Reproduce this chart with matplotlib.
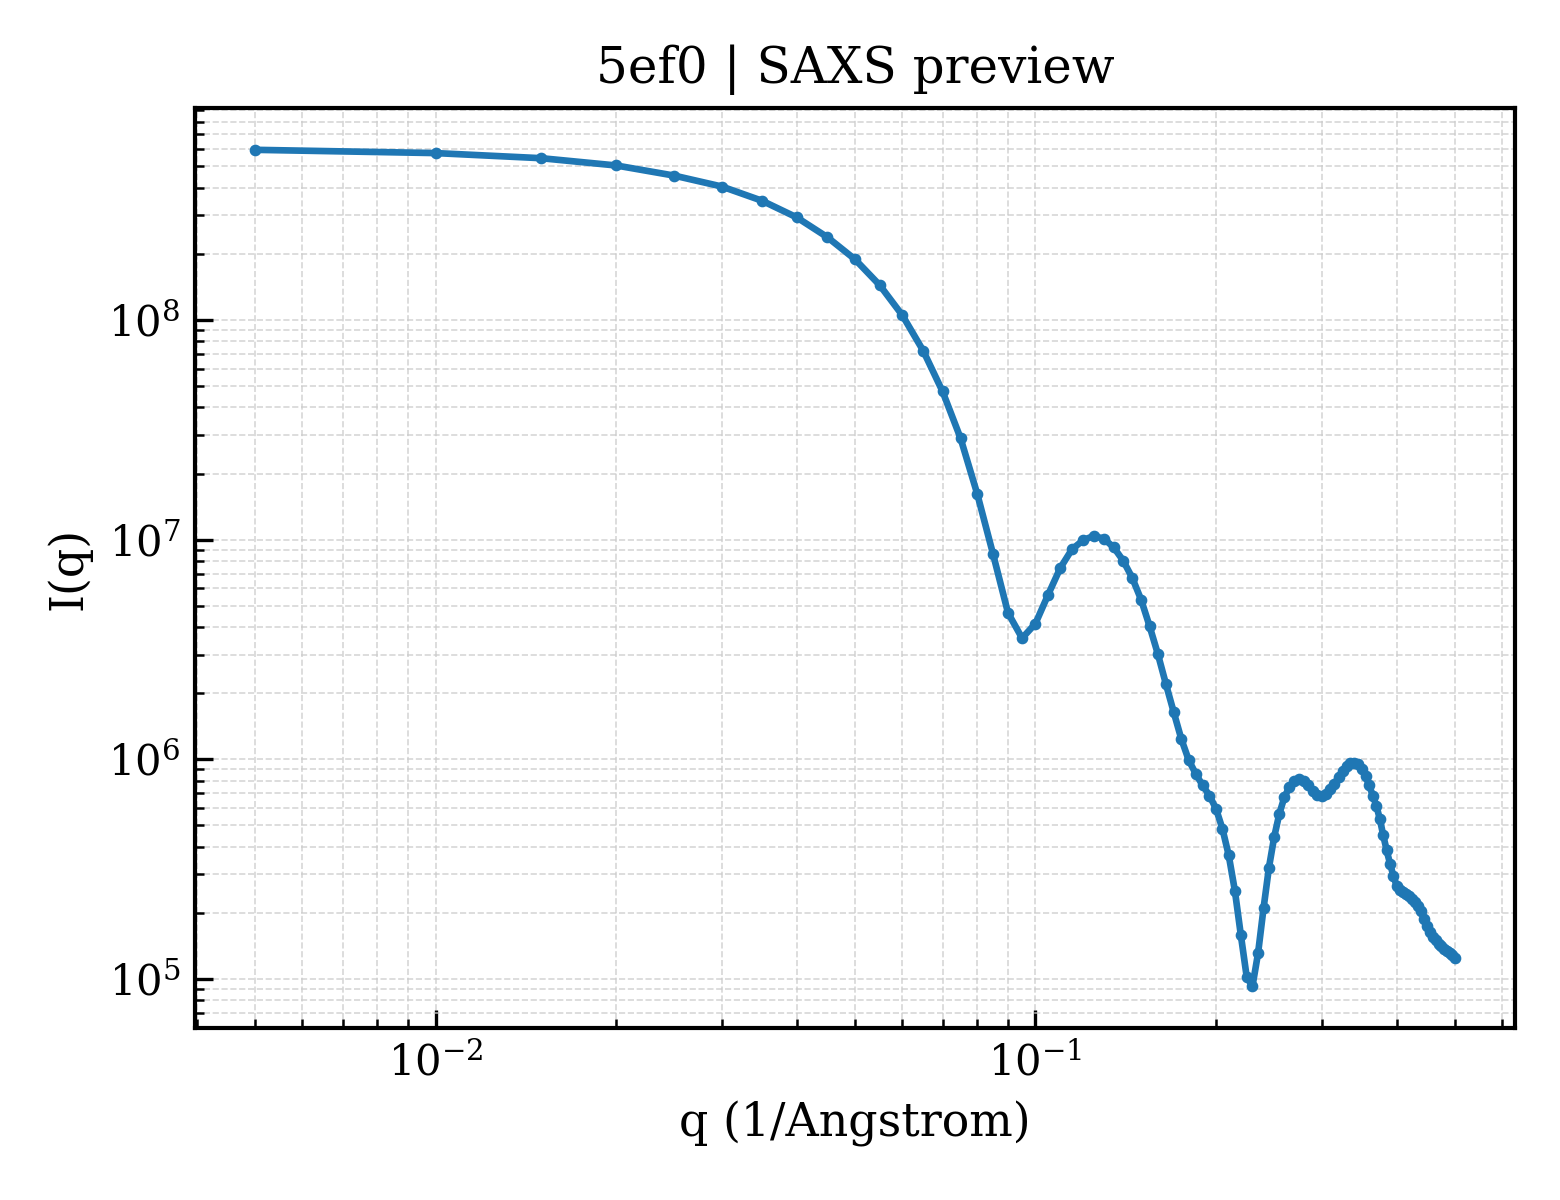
import matplotlib
matplotlib.use("Agg")
import matplotlib.pyplot as plt
import numpy as np

plt.rcParams['font.family'] = ['DejaVu Serif']
plt.rcParams['mathtext.fontset'] = 'dejavuserif'

q = [0.005, 0.01, 0.015, 0.02, 0.025, 0.03, 0.035, 0.04, 0.045, 0.05,
     0.055, 0.06, 0.065, 0.07, 0.075, 0.08, 0.085, 0.09, 0.095, 0.1,
     0.105, 0.11, 0.115, 0.12, 0.125, 0.13, 0.135, 0.14, 0.145, 0.15,
     0.155, 0.16, 0.165, 0.17, 0.175, 0.18, 0.185, 0.19, 0.195, 0.2,
     0.205, 0.21, 0.215, 0.22, 0.225, 0.23, 0.235, 0.24, 0.245, 0.25,
     0.255, 0.26, 0.265, 0.27, 0.275, 0.28, 0.285, 0.29, 0.295, 0.3,
     0.305, 0.31, 0.315, 0.32, 0.325, 0.33, 0.335, 0.34, 0.345, 0.35,
     0.355, 0.36, 0.365, 0.37, 0.375, 0.38, 0.385, 0.39, 0.395, 0.4,
     0.405, 0.41, 0.415, 0.42, 0.425, 0.43, 0.435, 0.44, 0.445, 0.45,
     0.455, 0.46, 0.465, 0.47, 0.475, 0.48, 0.485, 0.49, 0.495, 0.5]

intensity = [5.95e8, 5.75e8, 5.45e8, 5.05e8, 4.54e8, 4.05e8, 3.49e8, 2.93e8, 2.38e8, 1.89e8,
             1.44e8, 1.05e8, 7.24e7, 4.73e7, 2.90e7, 1.61e7, 8.57e6, 4.64e6, 3.56e6, 4.15e6,
             5.62e6, 7.43e6, 9.02e6, 9.93e6, 1.04e7, 1.01e7, 9.23e6, 8.03e6, 6.70e6, 5.33e6,
             4.03e6, 3.01e6, 2.20e6, 1.64e6, 1.24e6, 9.95e5, 8.59e5, 7.60e5, 6.84e5, 5.95e5,
             4.82e5, 3.65e5, 2.52e5, 1.58e5, 1.02e5, 9.27e4, 1.31e5, 2.10e5, 3.21e5, 4.43e5,
             5.65e5, 6.73e5, 7.47e5, 7.93e5, 8.10e5, 7.93e5, 7.60e5, 7.17e5, 6.89e5, 6.84e5,
             6.96e5, 7.29e5, 7.73e5, 8.29e5, 8.89e5, 9.37e5, 9.64e5, 9.65e5, 9.50e5, 9.00e5,
             8.40e5, 7.60e5, 6.84e5, 6.16e5, 5.35e5, 4.50e5, 3.85e5, 3.35e5, 2.95e5, 2.66e5,
             2.55e5, 2.48e5, 2.43e5, 2.38e5, 2.32e5, 2.25e5, 2.16e5, 2.03e5, 1.88e5, 1.74e5,
             1.64e5, 1.56e5, 1.50e5, 1.45e5, 1.41e5, 1.37e5, 1.34e5, 1.31e5, 1.28e5, 1.24e5]

title = "5ef0 | SAXS preview"
xlabel = "q (1/Angstrom)"
ylabel = "I(q)"

fig = plt.figure(figsize=(5.2, 4.0), dpi=300)
ax = fig.add_axes([0.125, 0.1433, 0.846, 0.7667])

ax.plot(q, intensity, '-o', color='#1f77b4', lw=1.6, ms=1.8)
ax.set_xscale('log')
ax.set_yscale('log')

ax.grid(True, which='both', ls='--', lw=0.4, color='#cccccc', alpha=0.8)
ax.tick_params(which='both', direction='in')
ax.tick_params(which='major', length=4.3, labelsize=10)
ax.tick_params(which='minor', length=2.2)
for s in ax.spines.values():
    s.set_linewidth(1.0)

ax.set_title(title, fontsize=12)
ax.set_xlabel(xlabel, fontsize=11)
ax.set_ylabel(ylabel, fontsize=11)

fig.savefig('out.png', dpi=300)
